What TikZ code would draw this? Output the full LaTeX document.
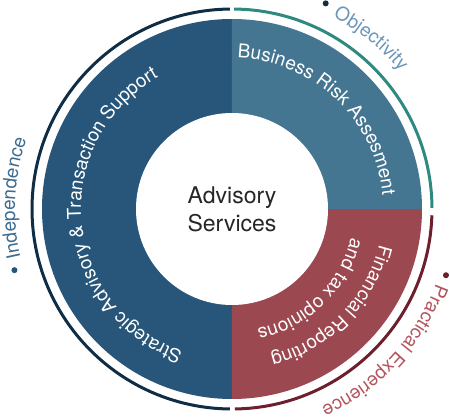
\documentclass[tikz,border=0pt]{standalone}
\usepackage{fontspec}
\setmainfont{TeX Gyre Heros}
\usetikzlibrary{decorations.text}

\definecolor{navyfill}{HTML}{27567A}
\definecolor{tealfill}{HTML}{447591}
\definecolor{redfill}{HTML}{9B4850}
\definecolor{navyarc}{HTML}{0F2D44}
\definecolor{tealarc}{HTML}{2E8A7F}
\definecolor{redarc}{HTML}{6D1F2C}
\definecolor{objtext}{HTML}{6C96B8}
\definecolor{indtext}{HTML}{3D6C8F}
\definecolor{practext}{HTML}{B3555F}

\newcommand{\ringfont}{\fontsize{19}{19}\selectfont}

% text on a clockwise arc: radius, start angle, end angle, colour, text
\newcommand{\arclabel}[5]{%
  \path[decorate, decoration={text along path, text align=left,
      text color=#4, text={|\ringfont|#5}}]
    (#2:#1) arc[start angle=#2, end angle=#3, radius=#1];
}

\begin{document}
\begin{tikzpicture}[x=1pt, y=1pt,
  dot/.style={circle, fill=#1, inner sep=0pt, minimum size=6pt},
  outerarc/.style={line width=3pt, draw=#1}]
  \useasboundingbox (-232,-207) rectangle (218,209);

  % Draw the three sectors of the ring
  \fill[navyfill] (0,0) -- (90:190) arc[start angle=90, end angle=270, radius=190] -- cycle;
  \fill[tealfill] (0,0) -- (0:190) arc[start angle=0, end angle=90, radius=190] -- cycle;
  \fill[redfill] (0,0) -- (-90:190) arc[start angle=-90, end angle=0, radius=190] -- cycle;

  % Draw the core
  \node[circle, fill=white, minimum size=192pt, inner sep=0pt, align=center,
    font=\fontsize{23}{28}\selectfont, text=black!85] (core) at (0,0) {Advisory\\Services};

  % Draw the outer arcs
  \draw[outerarc=navyarc] (90.6:200) arc[start angle=90.6, end angle=269.4, radius=200];
  \draw[outerarc=tealarc] (89.4:200) arc[start angle=89.4, end angle=0.3, radius=200];
  \draw[outerarc=redarc] (-1.8:200) arc[start angle=-1.8, end angle=-89.2, radius=200];

  % Services on the ring
  \arclabel{151}{251}{100}{white}{Strategic Advisory {\&} Transaction Support}
  \arclabel{151}{88}{-10}{white}{Business Risk Assesment}
  \arclabel{151.5}{-13.5}{-100}{white}{Financial Reporting}
  \arclabel{122.5}{-13.5}{-100}{white}{and tax opinions}

  % Values round the outside
  \node[dot=navyarc] (objdot) at (65.5:226) {};
  \node[dot=navyfill] (inddot) at (195.7:226) {};
  \node[dot=redarc] (pracdot) at (-17.2:224) {};
  \arclabel{217}{62.3}{20}{objtext}{Objectivity}
  \arclabel{217}{193}{140}{indtext}{Independence}
  \arclabel{217}{-20}{-80}{practext}{Practical Experience}

\end{tikzpicture}
\end{document}
